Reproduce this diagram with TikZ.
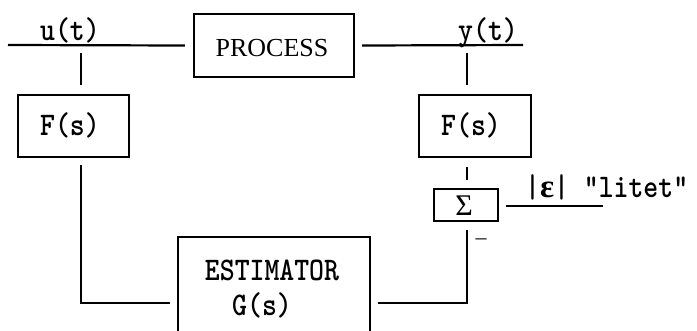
\documentclass[tikz,border=0pt]{standalone}
\usepackage{fontspec}
\newfontfamily\seriffnt{Liberation Serif}
\newfontfamily\ttbold[FakeStretch=0.86]{lmmonolt10-bold.otf}
\begin{document}
\begin{tikzpicture}[x=1pt,y=-1pt,line width=2.2pt,
  blk/.style={draw,rectangle,inner sep=0pt},
  mtxt/.style={font=\ttbold\fontsize{33}{33}\selectfont,inner sep=0pt,anchor=base},
  stxt/.style={font=\seriffnt\fontsize{25}{25}\selectfont,inner sep=0pt,anchor=base}]
\useasboundingbox (0,0) rectangle (697,330);
% blocks
\node[blk,minimum width=160pt,minimum height=63pt] (proc) at (274,45.5) {};
\node[blk,minimum width=111pt,minimum height=62pt] (fl) at (73.5,126) {};
\node[blk,minimum width=112pt,minimum height=62pt] (fr) at (475,126) {};
\node[blk,minimum width=64pt,minimum height=32pt] (sig) at (466,205) {};
\node[blk,minimum width=192pt,minimum height=110pt] (est) at (274,292) {};
% texts
\node[stxt,font=\seriffnt\fontsize{26}{26}\selectfont] (proct) at (272,56) {PROCESS};
\node[mtxt] (flt) at (70,135) {F(s)};
\node[mtxt] (frt) at (471,135) {F(s)};
\node[mtxt] (estt) at (272,280) {ESTIMATOR};
\node[mtxt] (gt) at (262,315) {G(s)};
\node[stxt,font=\seriffnt\fontsize{30}{30}\selectfont] (sigt) at (464,215) {Σ};
\node[mtxt] (ut) at (70,40) {u(t)};
\node[mtxt] (yt) at (488,40) {y(t)};
\node[mtxt,anchor=base west] (eps) at (524,197) {|{\seriffnt\bfseries ε}| "litet"};
\node[stxt,font=\seriffnt\fontsize{22}{22}\selectfont] (minus) at (481,244) {–};
% coordinates
\coordinate (uin) at (8,45);
\coordinate (yout) at (523,45);
\coordinate (ju) at (81,45);
\coordinate (jy) at (467,45);
\coordinate (jl) at (81,303);
\coordinate (jr) at (467,303);
\coordinate (eout) at (603,206);
% connectors
\draw (uin) -- ([xshift=-8pt]proc.west);
\draw ([xshift=7pt]proc.east) -- (yout);
\draw ([yshift=-8pt]ju) -- ([yshift=9pt]fl.north -| ju);
\draw ([yshift=-8pt]jy) -- ([yshift=9pt]fr.north -| jy);
\draw ([yshift=-7pt]fl.south -| ju) -- (jl) -- ([xshift=-7pt]est.west |- jl);
\draw ([yshift=-9pt]fr.south -| jy) -- ([yshift=8pt]sig.north -| jy);
\draw ([yshift=-8pt]sig.south -| jy) -- (jr) -- ([xshift=7pt]est.east |- jr);
\draw ([xshift=7pt]sig.east |- eout) -- (eout);
\end{tikzpicture}
\end{document}
